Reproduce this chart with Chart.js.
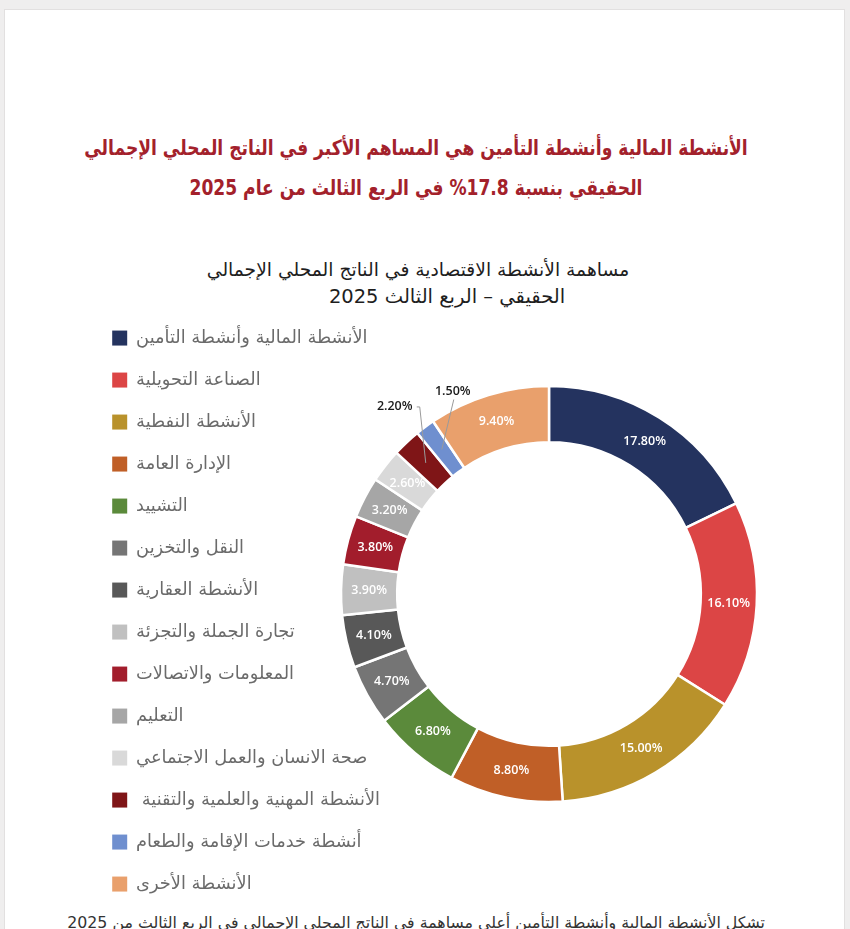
<!DOCTYPE html>
<html lang="ar">
<head>
<meta charset="utf-8">
<script src="https://cdn.jsdelivr.net/npm/chart.js@4.4.1/dist/chart.umd.min.js"></script>
<style>
  html, body { margin: 0; padding: 0; width: 850px; height: 929px; overflow: hidden; background: #efeeee; }
  #card { position: absolute; left: 4px; top: 9px; width: 841px; height: 940px; background: #ffffff; border: 1px solid #e2e0e0; box-sizing: border-box; }
  .ar { direction: rtl; unicode-bidi: plaintext; font-family: "DejaVu Sans", "Noto Sans", sans-serif; white-space: nowrap; }
  #heading { position: absolute; left: 0; width: 832px; top: 128px; text-align: center; color: #a3212b; font-weight: bold; font-size: 21px; line-height: 40px; transform: scaleX(0.815); transform-origin: 416px 0; }
  #ctitle { position: absolute; left: 0; width: 836px; top: 256px; text-align: center; color: #1e1e1e; font-size: 18.7px; line-height: 27px; }
  #ctitle .l2 { padding-left: 58px; font-size: 19.5px; }
  #para { position: absolute; right: 85px; top: 911px; color: #333; font-size: 15.8px; line-height: 24px; }
  #wrap { position: absolute; left: 0; top: 265px; width: 850px; height: 658px; }
</style>
</head>
<body>
<div id="card"></div>
<div id="heading" class="ar"></div>
<div id="ctitle" class="ar"></div>
<div id="para" class="ar"></div>
<div id="wrap"><canvas id="c"></canvas></div>
<script>
// ---- data ----
const headingLines = [
  'الأنشطة المالية وأنشطة التأمين هي المساهم الأكبر في الناتج المحلي الإجمالي',
  'الحقيقي بنسبة 17.8%  في الربع الثالث من عام 2025'
];
const chartTitleLines = [
  'مساهمة الأنشطة الاقتصادية في الناتج المحلي الإجمالي',
  'الحقيقي – الربع الثالث 2025'
];
const paragraphText = 'تشكل الأنشطة المالية وأنشطة التأمين أعلى مساهمة في الناتج المحلي الإجمالي في الربع الثالث من 2025';
const categories = [
  'الأنشطة المالية وأنشطة التأمين',
  'الصناعة التحويلية',
  'الأنشطة النفطية',
  'الإدارة العامة',
  'التشييد',
  'النقل والتخزين',
  'الأنشطة العقارية',
  'تجارة الجملة والتجزئة',
  'المعلومات والاتصالات',
  'التعليم',
  'صحة الانسان والعمل الاجتماعي',
  ' الأنشطة المهنية والعلمية والتقنية',
  'أنشطة خدمات الإقامة والطعام',
  'الأنشطة الأخرى'
];
const shares = [17.8, 16.1, 15.0, 8.8, 6.8, 4.7, 4.1, 3.9, 3.8, 3.2, 2.6, 2.2, 1.5, 9.4];
const sliceColors = [
  '#24335f', '#dc4545', '#b9922b', '#c05f27', '#5b8a3b', '#757575', '#585858',
  '#c0c0c0', '#a21d2c', '#a6a6a6', '#d9d9d9', '#7f1517', '#6f8fcf', '#e9a06c'
];

document.getElementById('heading').innerHTML = headingLines.map(t => '<div>' + t + '</div>').join('');
document.getElementById('ctitle').innerHTML = '<div>' + chartTitleLines[0] + '</div><div class="l2">' + chartTitleLines[1] + '</div>';
document.getElementById('para').textContent = paragraphText;

// ---- slice labels plugin ----
const sliceLabels = {
  id: 'sliceLabels',
  afterDatasetsDraw(chart, args, opts) {
    const ctx = chart.ctx;
    const meta = chart.getDatasetMeta(0);
    const values = chart.data.datasets[0].data;
    ctx.save();
    ctx.font = '600 12.5px "Open Sans", sans-serif';
    ctx.textAlign = 'center';
    ctx.textBaseline = 'middle';
    meta.data.forEach((arc, i) => {
      const p = arc.tooltipPosition(true);
      const txt = values[i].toFixed(2) + '%';
      const out = opts.outside[i];
      if (out) {
        const tx = p.x + out.dx, ty = p.y + out.dy;
        ctx.strokeStyle = '#9a9a9a';
        ctx.lineWidth = 1;
        ctx.beginPath();
        ctx.moveTo(p.x, p.y);
        if (out.elbow) {
          ctx.lineTo(p.x + out.elbow, ty);
          ctx.lineTo(tx + 22, ty);
        } else {
          ctx.lineTo(tx + 1, ty + 8);
        }
        ctx.stroke();
        ctx.fillStyle = '#1a1a1a';
        ctx.fillText(txt, tx, ty);
      } else {
        ctx.fillStyle = '#ffffff';
        ctx.fillText(txt, p.x, p.y);
      }
    });
    ctx.restore();
  }
};

const baseLabels = Chart.overrides.doughnut.plugins.legend.labels.generateLabels;

new Chart(document.getElementById('c'), {
  type: 'doughnut',
  data: {
    labels: categories,
    datasets: [{
      data: shares,
      backgroundColor: sliceColors,
      borderColor: '#ffffff',
      borderWidth: 2.5,
      clip: false
    }]
  },
  options: {
    responsive: true,
    maintainAspectRatio: false,
    animation: false,
    cutout: '73%',
    radius: 208,
    layout: { padding: { left: 88, right: 132, top: 0, bottom: 0 } },
    plugins: {
      tooltip: { enabled: false },
      legend: {
        position: 'left',
        align: 'start',
        maxWidth: 292,
        title: { display: true, text: ' ', font: { size: 33.3 }, padding: 0 },
        labels: {
          boxWidth: 15,
          boxHeight: 15,
          padding: 24.2,
          color: '#6b6b6b',
          font: { family: '"DejaVu Sans", sans-serif', size: 17.8 },
          generateLabels(chart) {
            return baseLabels(chart).map(l => Object.assign(l, { lineWidth: 0, strokeStyle: 'rgba(0,0,0,0)' }));
          }
        }
      },
      sliceLabels: {
        outside: {
          11: { dx: -31, dy: -56, elbow: -6 },
          12: { dx: 11, dy: -58 }
        }
      }
    }
  },
  plugins: [sliceLabels]
});
</script>
</body>
</html>
